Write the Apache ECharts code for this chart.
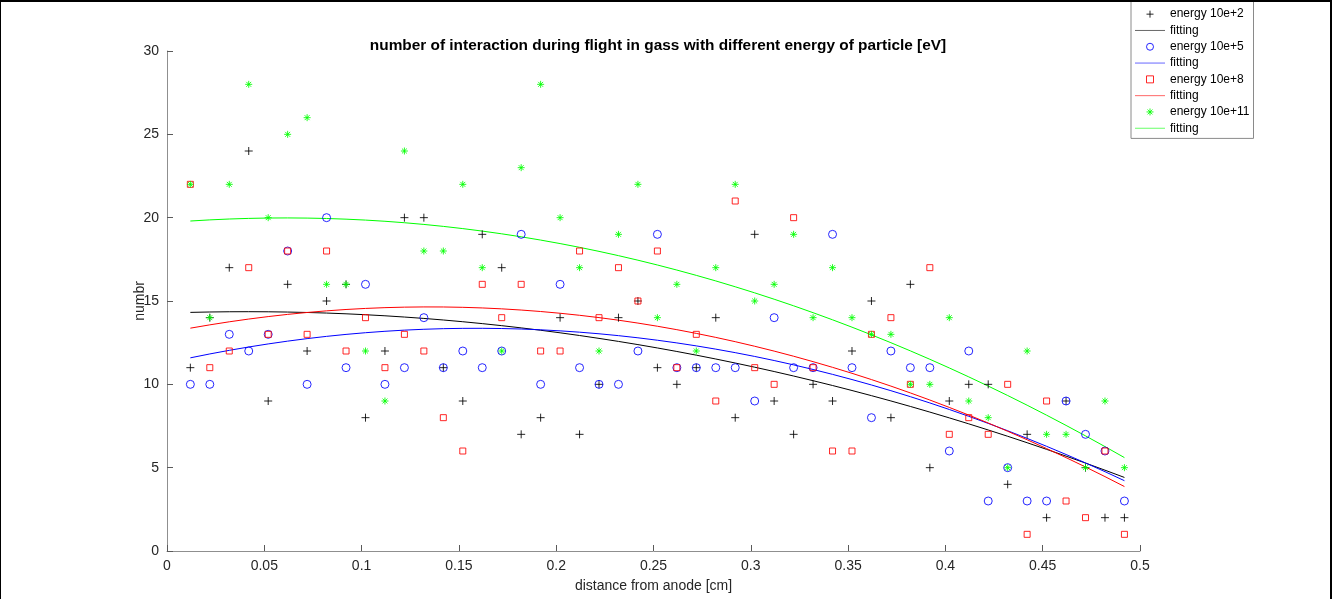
<!DOCTYPE html>
<html>
<head>
<meta charset="utf-8">
<title>number of interaction during flight in gass</title>
<script src="https://cdn.jsdelivr.net/npm/echarts@6/dist/echarts.min.js"></script>
<style>
  html, body { margin: 0; padding: 0; background: #fff; }
  #chart { width: 1335px; height: 599px; }
  #frame { position: absolute; left: 0px; top: 0px; width: 1329px; height: 610px;
           border-left: 1px solid #000; border-top: 2px solid #000; border-right: 2px solid #000;
           pointer-events: none; }
</style>
</head>
<body>
<div id="chart"></div>
<div id="frame"></div>
<script>
// distance from anode [cm]
const distance = [0.012, 0.022, 0.032, 0.042, 0.052, 0.062, 0.072, 0.082, 0.092, 0.102,
  0.112, 0.122, 0.132, 0.142, 0.152, 0.162, 0.172, 0.182, 0.192, 0.202,
  0.212, 0.222, 0.232, 0.242, 0.252, 0.262, 0.272, 0.282, 0.292, 0.302,
  0.312, 0.322, 0.332, 0.342, 0.352, 0.362, 0.372, 0.382, 0.392, 0.402,
  0.412, 0.422, 0.432, 0.442, 0.452, 0.462, 0.472, 0.482, 0.492];

// number of interactions for each particle energy
const energy2 = [11, 14, 17, 24, 9, 16, 12, 15, 16, 8,
  12, 20, 20, 11, 9, 19, 17, 7, 8, 14,
  7, 10, 14, 15, 11, 10, 11, 14, 8, 19,
  9, 7, 10, 9, 12, 15, 8, 16, 5, 9,
  10, 10, 4, 7, 2, 9, 5, 2, 2];
const energy5 = [10, 10, 13, 12, 13, 18, 10, 20, 11, 16,
  10, 11, 14, 11, 12, 11, 12, 19, 10, 16,
  11, 10, 10, 12, 19, 11, 11, 11, 11, 9,
  14, 11, 11, 19, 11, 8, 12, 11, 11, 6,
  12, 3, 5, 3, 3, 9, 7, 6, 3];
const energy8 = [22, 11, 12, 17, 13, 18, 13, 18, 12, 14,
  11, 13, 12, 8, 6, 16, 14, 16, 12, 12,
  18, 14, 17, 15, 18, 11, 13, 9, 21, 11,
  10, 20, 11, 6, 6, 13, 14, 10, 17, 7,
  8, 7, 10, 1, 9, 3, 2, 6, 1];
const energy11 = [22, 14, 22, 28, 20, 25, 26, 16, 16, 12,
  9, 24, 18, 18, 22, 17, 12, 23, 28, 20,
  17, 12, 19, 22, 14, 16, 12, 17, 22, 15,
  16, 19, 14, 17, 14, 13, 13, 10, 10, 14,
  9, 8, 5, 12, 7, 7, 5, 9, 5];

const xTicks = ['0', '0.05', '0.1', '0.15', '0.2', '0.25', '0.3', '0.35', '0.4', '0.45', '0.5'];
const seriesNames = ['energy 10e+2', 'energy 10e+5', 'energy 10e+8', 'energy 10e+11'];
const seriesColors = ['#000000', '#0000ff', '#ff0000', '#00ff00'];

// marker shapes: plus, circle, square, asterisk
const plusPath = 'path://M5,0L5,10M0,5L10,5';
const squarePath = 'path://M0,0L10,0L10,10L0,10Z';
const starPath = 'path://M5,0L5,10M0,5L10,5M1.5,1.5L8.5,8.5M8.5,1.5L1.5,8.5';
const lineIcon = 'path://M0,0L30,0L30,1L0,1Z';
const markers = [
  { symbol: plusPath, size: 8 },
  { symbol: 'circle', size: 8 },
  { symbol: squarePath, size: 6 },
  { symbol: starPath, size: 7 }
];

// least-squares quadratic fit y = a + b x + c x^2
function quadFit(xs, ys) {
  let s = [0, 0, 0, 0, 0], t = [0, 0, 0];
  for (let i = 0; i < xs.length; i++) {
    const x = xs[i], y = ys[i];
    let p = 1;
    for (let k = 0; k < 5; k++) { s[k] += p; if (k < 3) t[k] += p * y; p *= x; }
  }
  const A = [[s[0], s[1], s[2], t[0]], [s[1], s[2], s[3], t[1]], [s[2], s[3], s[4], t[2]]];
  for (let c = 0; c < 3; c++) {
    let piv = c;
    for (let r = c + 1; r < 3; r++) if (Math.abs(A[r][c]) > Math.abs(A[piv][c])) piv = r;
    [A[c], A[piv]] = [A[piv], A[c]];
    for (let r = 0; r < 3; r++) {
      if (r === c) continue;
      const f = A[r][c] / A[c][c];
      for (let k = c; k < 4; k++) A[r][k] -= f * A[c][k];
    }
  }
  return [A[0][3] / A[0][0], A[1][3] / A[1][1], A[2][3] / A[2][2]];
}

const allData = [energy2, energy5, energy8, energy11];
const series = [];
const legendData = [];
allData.forEach((ys, k) => {
  const fitName = 'fitting' + '\u200b'.repeat(k);
  series.push({
    name: seriesNames[k],
    type: 'scatter',
    symbol: markers[k].symbol,
    symbolSize: markers[k].size,
    itemStyle: {
      color: k === 3 ? seriesColors[k] : 'rgba(0,0,0,0)',
      borderColor: seriesColors[k],
      borderWidth: 1,
      opacity: 0.85
    },
    z: 3,
    data: distance.map((x, i) => [x, ys[i]])
  });
  const c = quadFit(distance, ys);
  series.push({
    name: fitName,
    type: 'line',
    symbol: 'none',
    smooth: false,
    lineStyle: { color: seriesColors[k], width: 1 },
    itemStyle: { color: seriesColors[k] },
    z: 2,
    data: distance.map(x => [x, c[0] + c[1] * x + c[2] * x * x])
  });
  legendData.push({ name: seriesNames[k], icon: markers[k].symbol, itemStyle: { borderWidth: 1 } });
  legendData.push({ name: fitName, icon: lineIcon, itemStyle: { color: seriesColors[k], opacity: 0.6 } });
});

const chart = echarts.init(document.getElementById('chart'), null, { renderer: 'canvas' });
chart.setOption({
  animation: false,
  backgroundColor: '#ffffff',
  textStyle: { fontFamily: 'Liberation Sans, Arial, sans-serif' },
  title: {
    text: 'number of interaction during flight in gass with different energy of particle [eV]',
    left: 653,
    top: 33,
    textAlign: 'center',
    textStyle: { fontSize: 15.4, fontWeight: 'bold', color: '#000', fontFamily: 'Liberation Sans, Arial, sans-serif' }
  },
  grid: { left: 167, right: 195, top: 51, bottom: 48 },
  legend: {
    data: legendData,
    orient: 'vertical',
    left: 1131,
    top: 1,
    itemWidth: 30,
    itemHeight: 7,
    itemGap: 2,
    padding: [6, 4, 3, 4],
    backgroundColor: '#ffffff',
    borderColor: '#8a8a8a',
    borderWidth: 1,
    borderRadius: 0,
    formatter: name => name.replace(/\u200b/g, ''),
    textStyle: { fontSize: 12, lineHeight: 14.3, color: '#000', padding: [0, 0, 0, 0] }
  },
  xAxis: {
    type: 'value',
    min: 0,
    max: 0.5,
    interval: 0.05,
    name: 'distance from anode [cm]',
    nameLocation: 'middle',
    nameGap: 28,
    nameTextStyle: { fontSize: 14, color: '#262626' },
    axisLine: { onZero: false, lineStyle: { color: '#8f8f8f', width: 1 } },
    axisTick: { inside: true, length: 6, lineStyle: { color: '#5a5a5a' } },
    axisLabel: {
      fontSize: 14, color: '#262626', margin: 8,
      formatter: (v) => xTicks[Math.round(v / 0.05)]
    },
    splitLine: { show: false }
  },
  yAxis: {
    type: 'value',
    min: 0,
    max: 30,
    interval: 5,
    name: 'numbr',
    nameLocation: 'middle',
    nameGap: 20,
    nameMoveOverlap: false,
    nameRotate: 90,
    nameTextStyle: { fontSize: 14, color: '#262626' },
    axisLine: { onZero: false, lineStyle: { color: '#8f8f8f', width: 1 } },
    axisTick: { inside: true, length: 6, lineStyle: { color: '#5a5a5a' } },
    axisLabel: { fontSize: 14, color: '#262626', margin: 8 },
    splitLine: { show: false }
  },
  series: series
});
</script>
</body>
</html>
